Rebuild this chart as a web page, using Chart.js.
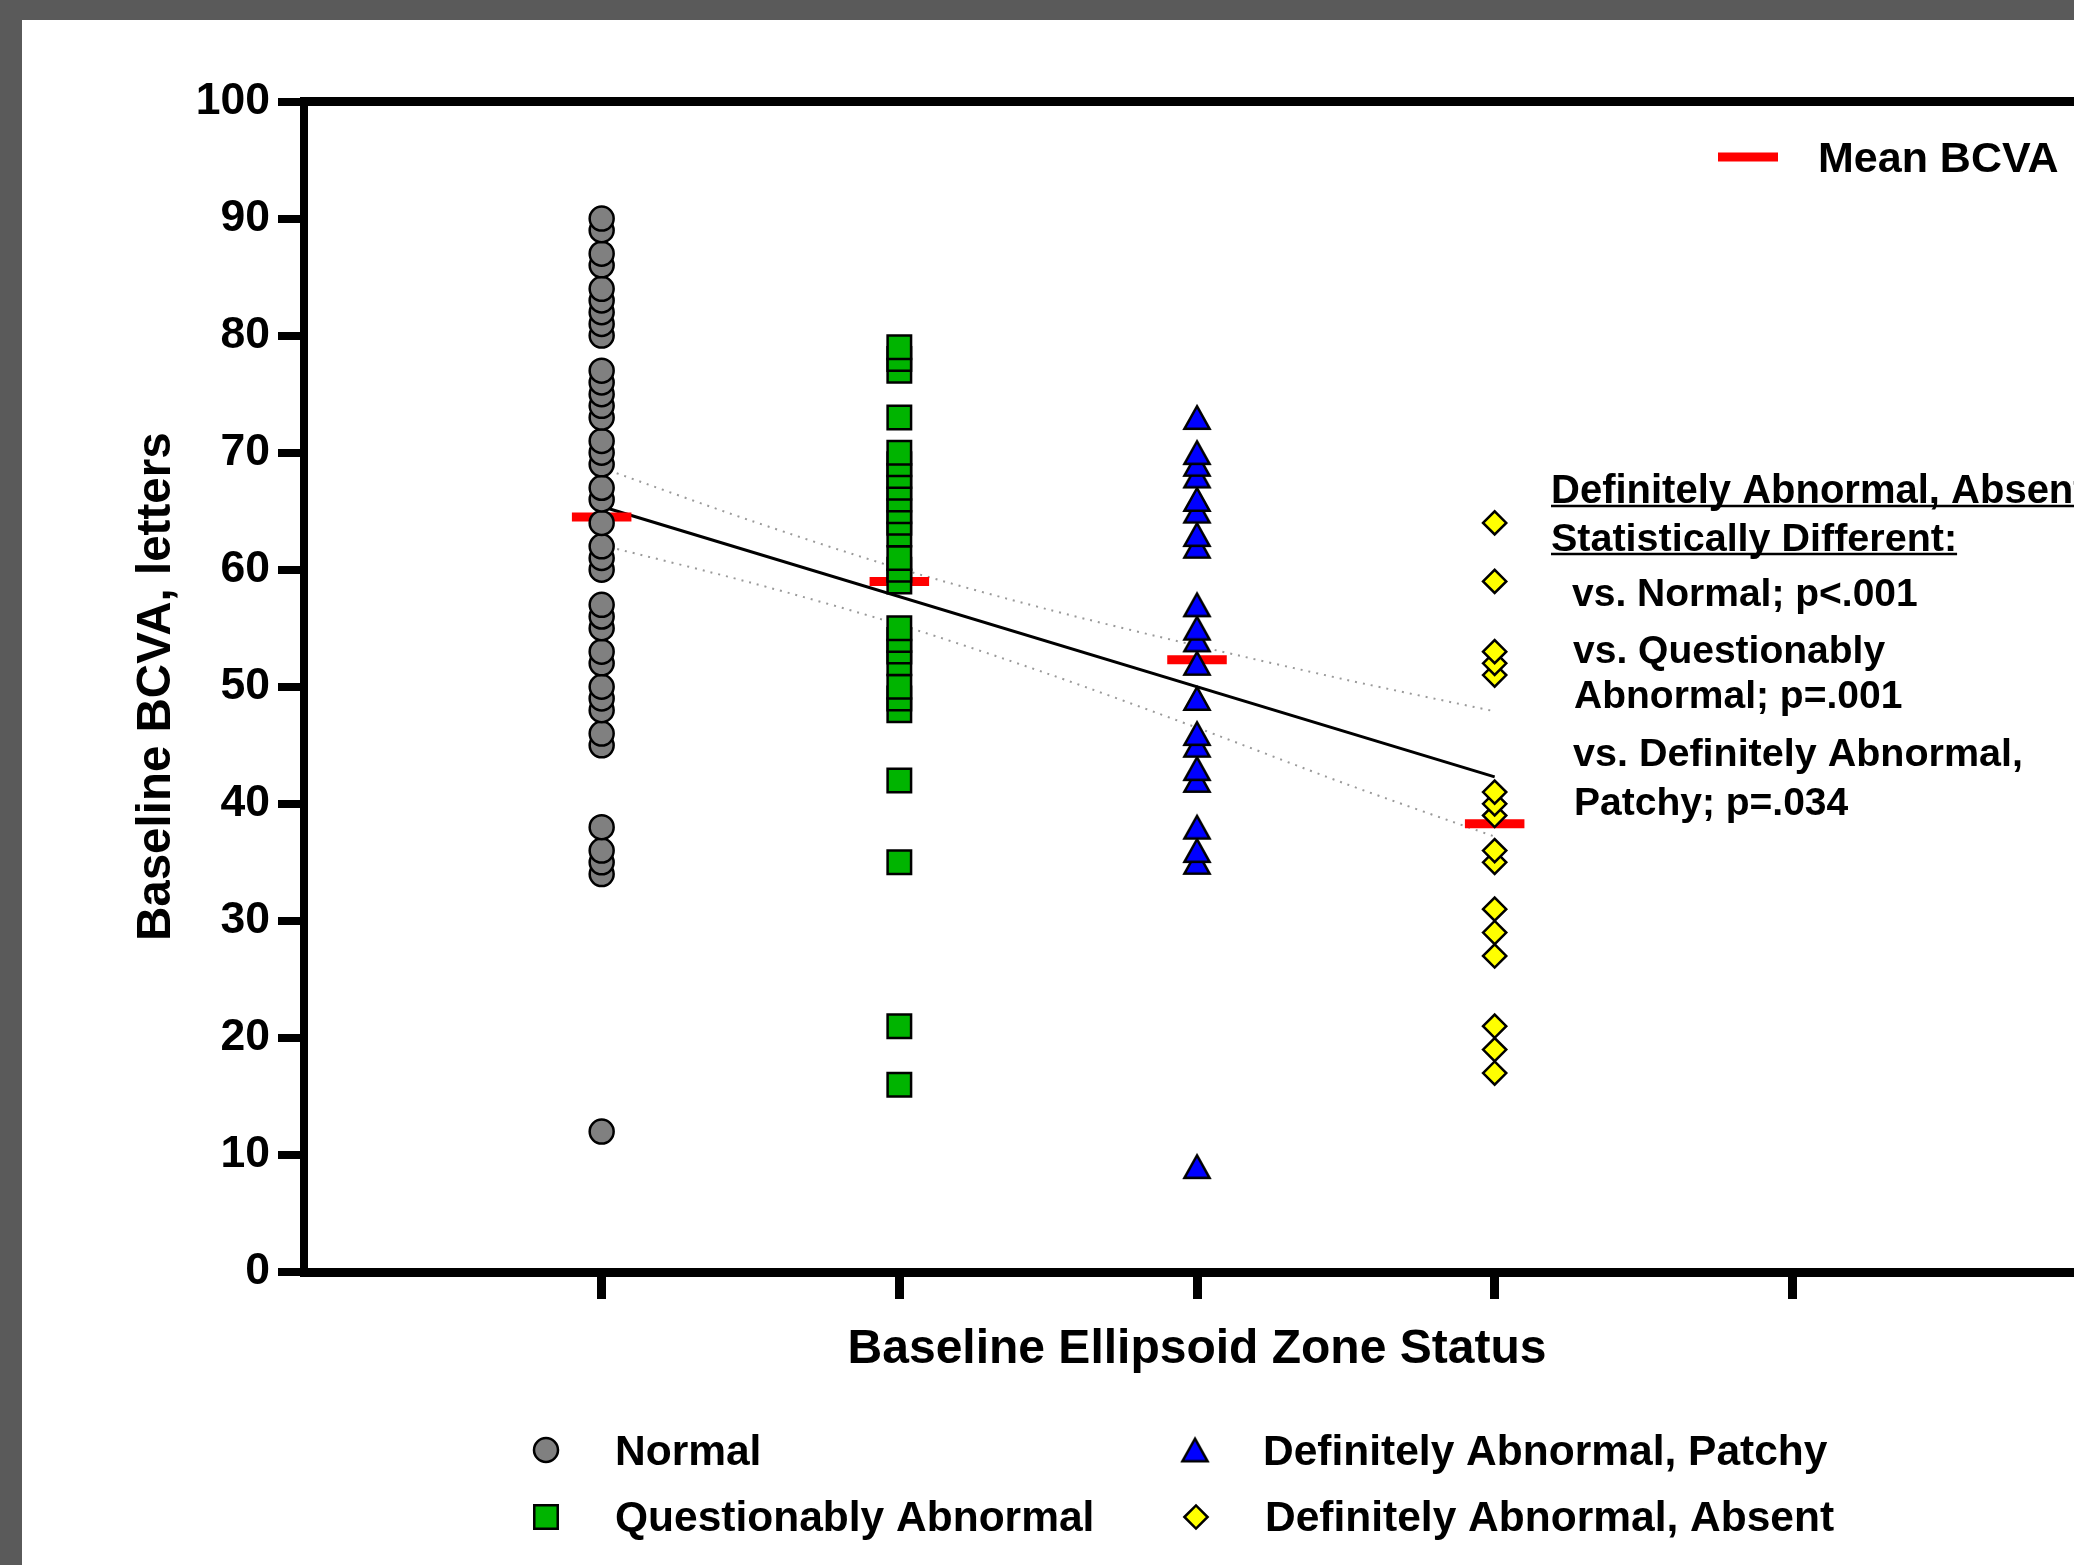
<!DOCTYPE html>
<html>
<head>
<meta charset="utf-8">
<title>Baseline BCVA by Ellipsoid Zone Status</title>
<script src="https://cdn.jsdelivr.net/npm/chart.js@4.4.1/dist/chart.umd.min.js"></script>
<style>
  html, body { margin: 0; padding: 0; width: 2074px; height: 1565px; overflow: hidden; background: #5a5a5a; }
  #paper { position: absolute; left: 22px; top: 20px; width: 2200px; height: 1600px; background: #ffffff; }
  #chart { position: absolute; left: 0; top: 0; }
</style>
</head>
<body>
<div id="paper"></div>
<canvas id="chart" width="2120" height="1565"></canvas>
<script>
// groups on the x axis (positions 1..4, tick 5 left empty)
const groups = ['Normal', 'Questionably Abnormal', 'Definitely Abnormal, Patchy', 'Definitely Abnormal, Absent'];
const groupX = [1, 2, 3, 4];
const xTicks = [1, 2, 3, 4, 5];

// baseline BCVA (letters) per eye, low to high
const normalBcva = [12, 34, 35, 36, 38, 45, 46, 48, 49, 50, 52, 53, 55, 56, 57, 60, 61, 62, 64, 66, 67,
  69, 70, 71, 73, 74, 75, 76, 77, 80, 81, 82, 83, 84, 86, 87, 89, 90];
const questionableBcva = [16, 21, 35, 42, 48, 49, 50, 52, 53, 54, 55, 59, 60, 61, 63, 64, 65, 66, 67,
  68, 69, 70, 73, 77, 78, 79];
const patchyBcva = [9, 35, 36, 38, 42, 43, 45, 46, 49, 52, 54, 55, 57, 62, 63, 65, 66, 68, 69, 70, 73];
const absentBcva = [17, 19, 21, 27, 29, 31, 35, 36, 39, 40, 41, 51, 52, 53, 59, 64];

// group means (red bars)
const meanBcva = [64.5, 59.0, 52.3, 38.3];

// linear fit and its confidence band
const fitX = [1, 4];
const fitY = [65.4, 42.3];
const bandX = [1, 1.5, 2, 2.5, 3, 3.5, 4];
const bandUpper = [68.7, 64.2, 60.1, 56.6, 53.5, 50.6, 47.9];
const bandLower = [62.1, 58.9, 55.3, 51.1, 46.5, 41.7, 37.2];

const noteLines = ['Definitely Abnormal, Absent', 'Statistically Different:', 'vs. Normal; p<.001',
  'vs. Questionably', 'Abnormal; p=.001', 'vs. Definitely Abnormal,', 'Patchy; p=.034'];

const FONT = '"Liberation Sans", Arial, Helvetica, sans-serif';
const colors = ['#808080', '#00b400', '#0000ff', '#ffff00'];

// triangle marker, centred on its bounding box like the original
function triangleMark(fill) {
    const c = document.createElement('canvas');
    c.width = 30;
    c.height = 29;
    const g = c.getContext('2d');
    g.beginPath();
    g.moveTo(15, 3.2);
    g.lineTo(27.6, 25.8);
    g.lineTo(2.4, 25.8);
    g.closePath();
    g.fillStyle = fill;
    g.fill();
    g.lineWidth = 2.5;
    g.lineJoin = 'miter';
    g.strokeStyle = '#000';
    g.stroke();
    return c;
}

const marks = [
    { pointStyle: 'circle', radius: 12 },
    { pointStyle: 'rect', radius: 16.6 },
    { pointStyle: triangleMark(colors[2]), radius: 14 },
    { pointStyle: 'rectRot', radius: 11.6 }
];

const pts = (values, x) => values.map(v => ({ x, y: v }));

const meanData = [];
meanBcva.forEach((m, i) => {
    meanData.push({ x: groupX[i] - 0.1, y: m }, { x: groupX[i] + 0.1, y: m }, { x: groupX[i] + 0.5, y: null });
});

const seriesValues = [normalBcva, questionableBcva, patchyBcva, absentBcva];
const pointSets = seriesValues.map((vals, i) => ({
    type: 'scatter',
    label: groups[i],
    data: pts(vals, groupX[i]),
    pointStyle: marks[i].pointStyle,
    pointRadius: marks[i].radius,
    pointBackgroundColor: colors[i],
    pointBorderColor: '#000',
    pointBorderWidth: 2.5,
    order: 0
}));

const lineSets = [
    {
        type: 'line', label: 'Mean BCVA', data: meanData,
        borderColor: '#ff0000', borderWidth: 9, borderCapStyle: 'butt',
        pointRadius: 0, spanGaps: false, order: 1
    },
    {
        type: 'line', label: 'fit', data: fitX.map((x, i) => ({ x, y: fitY[i] })),
        borderColor: '#000', borderWidth: 3, pointRadius: 0, order: 2
    },
    {
        type: 'line', label: 'upper', data: bandX.map((x, i) => ({ x, y: bandUpper[i] })),
        borderColor: '#9a9a9a', borderWidth: 2, borderDash: [2, 6], pointRadius: 0, tension: 0.3, order: 3
    },
    {
        type: 'line', label: 'lower', data: bandX.map((x, i) => ({ x, y: bandLower[i] })),
        borderColor: '#9a9a9a', borderWidth: 2, borderDash: [2, 6], pointRadius: 0, tension: 0.3, order: 3
    }
];

// keys and the stats note, drawn on top of the plot
const notesPlugin = {
    id: 'notes',
    afterDraw(chart) {
        const ctx = chart.ctx;
        ctx.save();
        ctx.textAlign = 'left';
        ctx.textBaseline = 'alphabetic';

        // Mean BCVA key
        ctx.strokeStyle = '#ff0000';
        ctx.lineWidth = 9;
        ctx.beginPath();
        ctx.moveTo(1718, 157);
        ctx.lineTo(1778, 157);
        ctx.stroke();
        ctx.fillStyle = '#000';
        ctx.font = 'bold 43px ' + FONT;
        ctx.fillText('Mean BCVA', 1818, 172);

        // stats note
        const noteX = [1551, 1551, 1572, 1573, 1574, 1573, 1574];
        const noteY = [503, 551, 606, 663, 708, 766, 815];
        const noteSize = [40, 39.5, 39, 39, 39, 39.5, 39];
        ctx.lineWidth = 2.5;
        ctx.strokeStyle = '#000';
        noteLines.forEach((t, i) => {
            ctx.font = 'bold ' + noteSize[i] + 'px ' + FONT;
            ctx.fillText(t, noteX[i], noteY[i]);
            if (i < 2) {
                const w = ctx.measureText(t).width;
                ctx.beginPath();
                ctx.moveTo(noteX[i], noteY[i] + 3);
                ctx.lineTo(noteX[i] + w, noteY[i] + 3);
                ctx.stroke();
            }
        });

        // group key below the axis
        const keyX = [546, 546, 1195, 1196];
        const keyY = [1450, 1517, 1450, 1517];
        const textX = [615, 615, 1263, 1265];
        const textY = [1465, 1531, 1465, 1531];
        ctx.font = 'bold 42.5px ' + FONT;
        groups.forEach((g, i) => {
            ctx.fillStyle = colors[i];
            ctx.strokeStyle = '#000';
            ctx.lineWidth = 2.5;
            Chart.helpers.drawPoint(ctx, {
                pointStyle: marks[i].pointStyle, radius: marks[i].radius, rotation: 0, borderWidth: 2.5
            }, keyX[i], keyY[i]);
            ctx.fillStyle = '#000';
            ctx.fillText(g, textX[i], textY[i]);
        });
        ctx.restore();
    }
};

new Chart(document.getElementById('chart'), {
    type: 'scatter',
    data: { datasets: [...pointSets, ...lineSets] },
    options: {
        responsive: false,
        devicePixelRatio: 1,
        animation: false,
        events: [],
        layout: { padding: { top: 101.5, right: 30, bottom: 0, left: 0 } },
        plugins: { legend: { display: false }, tooltip: { enabled: false } },
        scales: {
            x: {
                type: 'linear', position: 'bottom', min: 0, max: 6,
                afterBuildTicks: s => { s.ticks = xTicks.map(v => ({ value: v })); },
                afterFit: s => { s.height = 293; },
                ticks: { display: false },
                grid: { display: true, drawOnChartArea: false, drawTicks: true, tickLength: 27, lineWidth: 9, color: '#000' },
                border: { display: true, width: 9, color: '#000' },
                title: {
                    display: true, text: 'Baseline Ellipsoid Zone Status', color: '#000',
                    font: { family: FONT, size: 48, weight: 'bold', lineHeight: 1 },
                    padding: { top: 0, bottom: 191 }
                }
            },
            x2: {
                type: 'linear', position: 'top', min: 0, max: 6,
                afterFit: s => { s.height = 0; },
                ticks: { display: false },
                grid: { display: false },
                border: { display: true, width: 9, color: '#000' }
            },
            y: {
                type: 'linear', position: 'left', min: 0, max: 100,
                afterFit: s => { s.width = 304; },
                ticks: {
                    stepSize: 10, padding: 8, color: '#000',
                    font: { family: FONT, size: 44.5, weight: 'bold' }
                },
                grid: { display: true, drawOnChartArea: false, drawTicks: true, tickLength: 26, lineWidth: 8, color: '#000' },
                border: { display: true, width: 8, color: '#000' },
                title: {
                    display: true, text: 'Baseline BCVA, letters', color: '#000',
                    font: { family: FONT, size: 47.5, weight: 'bold', lineHeight: 1 },
                    padding: { top: 133, bottom: 0 }
                }
            }
        }
    },
    plugins: [notesPlugin]
});
</script>
</body>
</html>
